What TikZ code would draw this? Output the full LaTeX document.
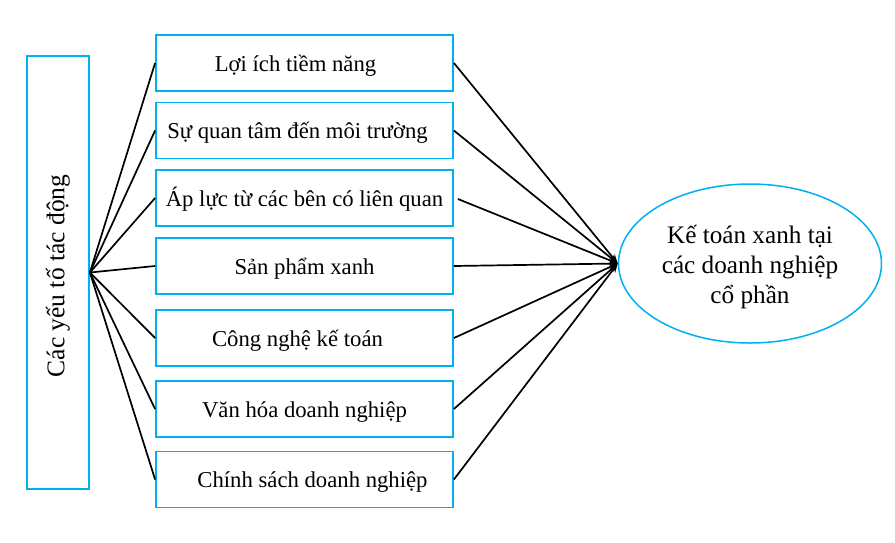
\documentclass[tikz,border=0pt]{standalone}
\usepackage{fontspec}
\setmainfont{Liberation Serif}
\usetikzlibrary{arrows.meta,shapes.geometric}
\definecolor{frameblue}{RGB}{0,176,240}
\begin{document}
\begin{tikzpicture}[x=1pt,y=-1pt,
  factorbox/.style={draw=frameblue,line width=1.8pt,minimum width=297pt,minimum height=56pt,inner sep=0pt,text height=21pt,text depth=5pt,font=\fontsize{22.7}{26}\selectfont},
  sidebox/.style={draw=frameblue,line width=1.8pt,minimum width=62pt,minimum height=433pt,inner sep=0pt},
  goal/.style={draw=frameblue,line width=1.5pt,ellipse,minimum width=263pt,minimum height=159pt,inner sep=0pt,align=center,font=\fontsize{25.2}{30}\selectfont},
  link/.style={line width=1.7pt},
  arrowlink/.style={line width=1.7pt,-{Stealth[length=9pt,width=7pt]}}
]
\useasboundingbox (0,0) rectangle (895,542);
\node[sidebox] (side) at (58,272.5) {};
\node[rotate=90,font=\fontsize{25.5}{30}\selectfont] (sidetext) at (58,276) {Các yếu tố tác động};

\node[factorbox] (b1) at (304.5,63) {\hspace*{-18pt}Lợi ích tiềm năng};
\node[factorbox] (b2) at (304.5,130.5) {\hspace*{-14pt}Sự quan tâm đến môi trường};
\node[factorbox] (b3) at (304.5,198) {Áp lực từ các bên có liên quan};
\node[factorbox] (b4) at (304.5,266) {Sản phẩm xanh};
\node[factorbox] (b5) at (304.5,338) {\hspace*{-14pt}Công nghệ kế toán};
\node[factorbox] (b6) at (304.5,409) {Văn hóa doanh nghiệp};
\node[factorbox] (b7) at (304.5,479.5) {\hspace*{16pt}Chính sách doanh nghiệp};

\node[goal] (g) at (750,263.5) {};
\node[align=center,font=\fontsize{25.2}{30}\selectfont] (gtext) at (750,267) {Kế toán xanh tại\\các doanh nghiệp\\cổ phần};

\foreach \b in {b1,b2,b3,b4,b5,b6,b7}{
  \draw[link] (side.east) -- (\b.west);
}
\foreach \b in {b1,b2,b4,b5,b6,b7}{
  \draw[arrowlink] (\b.east) -- (g.west);
}
\draw[arrowlink] ([xshift=4pt,yshift=-1pt]b3.east) -- (g.west);
\end{tikzpicture}
\end{document}
